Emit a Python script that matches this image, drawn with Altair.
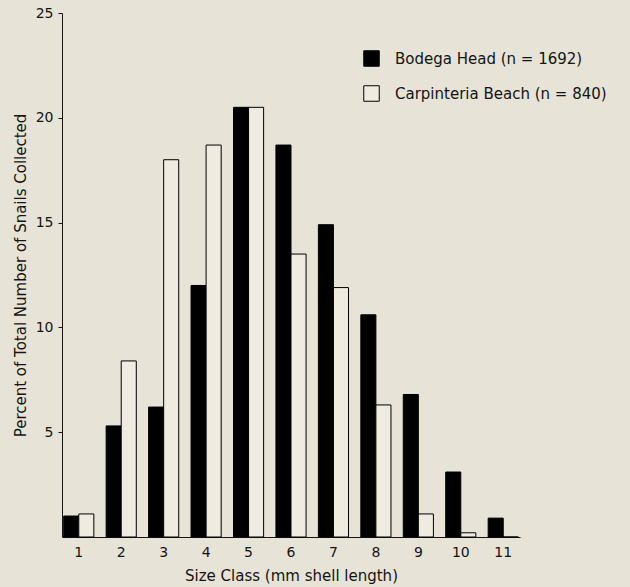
import altair as alt
import pandas as pd

size_classes = [1, 2, 3, 4, 5, 6, 7, 8, 9, 10, 11]
bodega = [1.0, 5.3, 6.2, 12.0, 20.5, 18.7, 14.9, 10.6, 6.8, 3.1, 0.9]
carpinteria = [1.1, 8.4, 18.0, 18.7, 20.5, 13.5, 11.9, 6.3, 1.1, 0.2, 0.0]
series_names = ["Bodega Head (n = 1692)", "Carpinteria Beach (n = 840)"]

rows = []
for i, s in enumerate(size_classes):
    rows.append({"size": s, "site": series_names[0], "pct": bodega[i]})
    rows.append({"size": s, "site": series_names[1], "pct": carpinteria[i]})
df = pd.DataFrame(rows)

FONT = "DejaVu Sans"
INK = "#141414"

chart = alt.Chart(df).mark_bar(stroke="black", strokeWidth=1).encode(
    x=alt.X("size:O", title="Size Class (mm shell length)",
            scale=alt.Scale(paddingInner=0.29, paddingOuter=0.04),
            axis=alt.Axis(labelAngle=0, ticks=False, labelPadding=8,
                          titlePadding=9, domainColor=INK, labelColor=INK,
                          titleColor=INK, labelFontSize=14, titleFontSize=15,
                          labelFont=FONT, titleFont=FONT, titleFontWeight="normal")),
    xOffset=alt.XOffset("site:N", sort=series_names),
    y=alt.Y("pct:Q", title="Percent of Total Number of Snails Collected",
            scale=alt.Scale(domain=[0, 25], nice=False),
            axis=alt.Axis(values=[5, 10, 15, 20, 25], grid=False, tickSize=4,
                          labelPadding=5, titlePadding=7, domainColor=INK,
                          tickColor=INK, labelColor=INK, titleColor=INK,
                          labelFontSize=14, titleFontSize=15, labelFont=FONT,
                          titleFont=FONT, titleFontWeight="normal")),
    color=alt.Color("site:N", sort=series_names,
                    scale=alt.Scale(domain=series_names, range=["#000000", "#efebe0"]),
                    legend=alt.Legend(title=None, orient="none", legendX=301, legendY=37,
                                      symbolType="square", symbolSize=240,
                                      symbolStrokeColor="black", symbolStrokeWidth=1,
                                      symbolOpacity=1, labelLimit=0,
                                      labelFontSize=15, labelFont=FONT, labelColor=INK,
                                      labelOffset=15, rowPadding=14)),
).properties(
    width=458, height=524,
    autosize=alt.AutoSizeParams(type="none"),
    padding={"left": 62, "top": 13, "right": 110, "bottom": 50},
    background="#e7e3d6",
).configure_view(stroke=None)

chart.save("out.html", embed_options={"renderer": "svg", "actions": False})
